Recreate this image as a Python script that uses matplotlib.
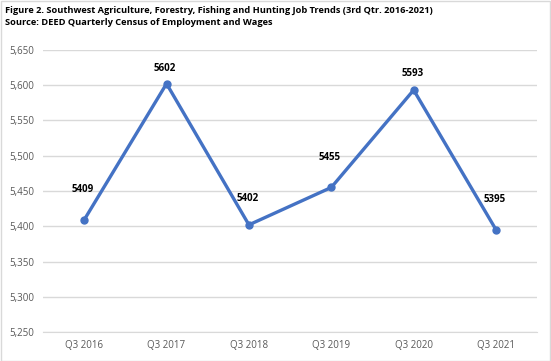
import matplotlib.pyplot as plt
import matplotlib.ticker as ticker
from matplotlib.patches import Rectangle

quarters = ["Q3 2016", "Q3 2017", "Q3 2018", "Q3 2019", "Q3 2020", "Q3 2021"]
jobs = [5409, 5602, 5402, 5455, 5593, 5395]

title = ("Figure 2. Southwest Agriculture, Forestry, Fishing and Hunting Job Trends (3rd Qtr. 2016-2021)\n"
         "Source: DEED Quarterly Census of Employment and Wages")

LINE = "#4472C4"
GRID = "#D9D9D9"
TXT = "#595959"

plt.rcParams['font.family'] = ['Open Sans', 'DejaVu Sans']

fig = plt.figure(figsize=(5.51, 3.61), dpi=100)
ax = fig.add_axes([0.078, 0.080, 0.897, 0.782])

x = list(range(len(quarters)))
ax.plot(x, jobs, color=LINE, linewidth=2.4, marker="o", markersize=5)

# label offsets in pixels (Excel shifted the peaks' labels less)
label_off = [30, 15, 26, 30, 17, 30]
for xi, yi, off in zip(x, jobs, label_off):
    ax.annotate(str(yi), (xi, yi), xytext=(-1, off * 0.72), textcoords="offset points",
                ha="center", va="center", fontsize=7, fontweight="bold", color="black")

ax.set_xlim(-0.5, len(quarters) - 0.5)
ax.set_ylim(5250, 5650)
ax.yaxis.set_major_locator(ticker.MultipleLocator(50))
ax.yaxis.set_major_formatter(ticker.FuncFormatter(lambda v, p: f"{int(v):,}"))
ax.set_xticks(x)
ax.set_xticklabels(quarters)
ax.grid(axis="y", color=GRID, linewidth=1)
ax.set_axisbelow(True)
for s in ["top", "right", "left"]:
    ax.spines[s].set_visible(False)
ax.spines["bottom"].set_color(GRID)
ax.tick_params(axis="both", length=0, labelsize=7, colors=TXT, pad=6)

fig.text(0.009, 0.985, title, ha="left", va="top", fontsize=6.7, fontweight="bold",
         linespacing=1.45)
fig.patches.append(Rectangle((0.001, 0.001), 0.997, 0.997, transform=fig.transFigure,
                             fill=False, edgecolor=GRID, linewidth=1))

fig.savefig("out.png", dpi=100)
